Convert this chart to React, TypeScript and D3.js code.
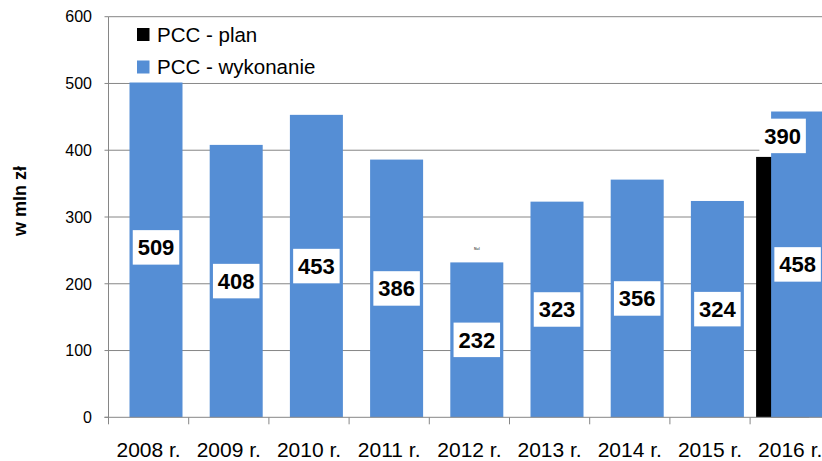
import { useEffect, useRef } from "react";
import * as d3 from "d3";

const YEARS = ["2008 r.", "2009 r.", "2010 r.", "2011 r.", "2012 r.", "2013 r.", "2014 r.", "2015 r.", "2016 r."];
const PLAN: (number | null)[] = [null, null, null, null, null, null, null, null, 390];
const WYKONANIE = [509, 408, 453, 386, 232, 323, 356, 324, 458];
const Y_TICKS = [0, 100, 200, 300, 400, 500, 600];

const BLUE = "#558ed5";
const GRID = "#868686";
const FONT = "'Liberation Sans', Arial, sans-serif";

export default function App() {
  const svgRef = useRef<SVGSVGElement>(null);

  useEffect(() => {
    if (!svgRef.current) return;
    const width = 822;
    const height = 461;
    const svg = d3.select(svgRef.current);
    svg.selectAll("*").remove();
    svg.attr("width", width).attr("height", height);

    const left = 108.5;
    const step = 80.2;
    const x = d3
      .scaleBand()
      .domain(YEARS)
      .range([left, left + step * YEARS.length])
      .paddingInner(0)
      .paddingOuter(0);
    const y = d3.scaleLinear().domain([0, 600]).range([417.3, 16.7]);
    const bw = x.bandwidth();
    const barW = bw * (53 / 80.2);
    const planOff = bw * (6 / 80.2);
    const blueOff = bw * (21 / 80.2);

    // gridlines
    svg
      .append("g")
      .selectAll("line")
      .data(Y_TICKS.filter((t) => t > 0))
      .enter()
      .append("line")
      .attr("x1", left)
      .attr("x2", width)
      .attr("y1", (d) => y(d))
      .attr("y2", (d) => y(d))
      .attr("stroke", GRID)
      .attr("stroke-width", 1);

    // plan bars (drawn first, blue overlaps)
    const planData = YEARS.map((c, i) => ({ c, v: PLAN[i] })).filter((d) => d.v != null) as { c: string; v: number }[];
    svg
      .append("g")
      .selectAll("rect")
      .data(planData)
      .enter()
      .append("rect")
      .attr("x", (d) => (x(d.c) ?? 0) + planOff)
      .attr("y", (d) => y(d.v))
      .attr("width", barW)
      .attr("height", (d) => y(0) - y(d.v))
      .attr("fill", "#000");

    const blueData = YEARS.map((c, i) => ({ c, v: WYKONANIE[i] }));
    svg
      .append("g")
      .selectAll("rect")
      .data(blueData)
      .enter()
      .append("rect")
      .attr("x", (d) => (x(d.c) ?? 0) + blueOff)
      .attr("y", (d) => y(d.v))
      .attr("width", barW)
      .attr("height", (d) => y(0) - y(d.v))
      .attr("fill", BLUE);

    // axes
    const axis = svg.append("g").attr("stroke", GRID).attr("stroke-width", 1);
    axis.append("line").attr("x1", left).attr("x2", left).attr("y1", y(600)).attr("y2", y(0));
    axis.append("line").attr("x1", left - 4).attr("x2", width).attr("y1", y(0)).attr("y2", y(0));
    axis
      .selectAll("line.yt")
      .data(Y_TICKS)
      .enter()
      .append("line")
      .attr("class", "yt")
      .attr("x1", left - 4)
      .attr("x2", left)
      .attr("y1", (d) => y(d))
      .attr("y2", (d) => y(d));
    axis
      .selectAll("line.xt")
      .data(YEARS)
      .enter()
      .append("line")
      .attr("class", "xt")
      .attr("x1", (d) => x(d) ?? 0)
      .attr("x2", (d) => x(d) ?? 0)
      .attr("y1", y(0))
      .attr("y2", y(0) + 7);

    svg
      .append("g")
      .selectAll("text")
      .data(Y_TICKS)
      .enter()
      .append("text")
      .attr("x", 92)
      .attr("y", (d) => y(d))
      .attr("dy", "0.36em")
      .attr("text-anchor", "end")
      .style("font-family", FONT)
      .style("font-size", "16px")
      .attr("fill", "#000")
      .text((d) => d);

    svg
      .append("g")
      .selectAll("text")
      .data(YEARS)
      .enter()
      .append("text")
      .attr("x", (d) => (x(d) ?? 0) + bw / 2)
      .attr("y", 456.5)
      .attr("text-anchor", "middle")
      .style("font-family", FONT)
      .style("font-size", "21px")
      .attr("fill", "#000")
      .text((d) => d);

    svg
      .append("text")
      .attr("transform", "translate(26,201) rotate(-90)")
      .attr("text-anchor", "middle")
      .style("font-family", FONT)
      .style("font-size", "18px")
      .style("font-weight", "bold")
      .text("w mln zł");

    // data labels
    const boxW = 46.5;
    const boxH = 34.5;
    const addLabel = (cx: number, cy: number, v: number) => {
      const g = svg.append("g");
      g.append("rect")
        .attr("x", cx - boxW / 2)
        .attr("y", cy - boxH / 2)
        .attr("width", boxW)
        .attr("height", boxH)
        .attr("fill", "#fff");
      g.append("text")
        .attr("x", cx)
        .attr("y", cy)
        .attr("dy", "0.36em")
        .attr("text-anchor", "middle")
        .style("font-family", FONT)
        .style("font-size", "22px")
        .style("font-weight", "bold")
        .text(v);
    };
    blueData.forEach((d) => {
      const cx = (x(d.c) ?? 0) + blueOff + barW / 2;
      addLabel(cx, (y(d.v) + y(0)) / 2, d.v);
    });
    planData.forEach((d) => {
      const cx = (x(d.c) ?? 0) + planOff + barW / 2;
      addLabel(cx, y(d.v) - 21, d.v);
    });

    // tiny leftover label in 2012
    svg
      .append("text")
      .attr("x", (x("2012 r.") ?? 0) + blueOff + barW / 2)
      .attr("y", 250)
      .attr("text-anchor", "middle")
      .style("font-family", FONT)
      .style("font-size", "3.5px")
      .style("font-weight", "bold")
      .attr("fill", "#555")
      .text("Nul");

    // legend
    const lg = svg.append("g");
    lg.append("rect").attr("x", 125).attr("y", 18).attr("width", 215).attr("height", 64.5).attr("fill", "#fff");
    const items = [
      { label: "PCC - plan", color: "#000" },
      { label: "PCC - wykonanie", color: BLUE },
    ];
    items.forEach((it, i) => {
      const cy = 34.5 + i * 32.5;
      lg.append("rect").attr("x", 137).attr("y", cy - 6.5).attr("width", 12.5).attr("height", 13).attr("fill", it.color);
      lg.append("text")
        .attr("x", 157)
        .attr("y", cy)
        .attr("dy", "0.36em")
        .style("font-family", FONT)
        .style("font-size", "20.5px")
        .attr("fill", "#000")
        .text(it.label);
    });
  }, []);

  return <svg ref={svgRef} style={{ position: "absolute", left: 0, top: 0, background: "#fff" }} />;
}
